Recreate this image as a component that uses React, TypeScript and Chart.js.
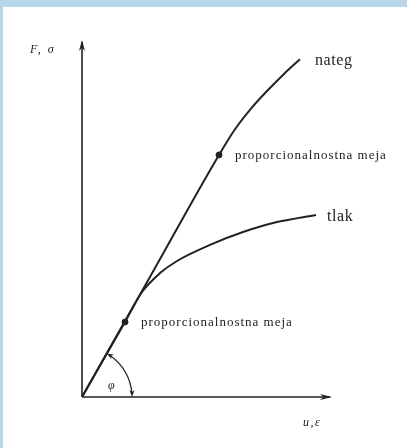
import React, { useEffect, useRef } from "react";
import { Chart, registerables } from "chart.js";

Chart.register(...registerables);

// Curves (u, F) in arbitrary units
const natX = [0, 2.74, 5.48, 6.12, 6.76, 7.4, 8.08, 8.72];
const natY = [0, 3.39, 6.78, 7.5, 8.08, 8.57, 9.05, 9.46];
const tlakX = [0, 1.72, 2.4, 3.12, 3.8, 5.12, 6.44, 7.8, 9.36];
const tlakY = [0, 2.1, 2.94, 3.47, 3.81, 4.26, 4.62, 4.9, 5.1];
const limitX = [5.48, 1.72];
const limitY = [6.78, 2.1];
const curveLabels = ["nateg", "tlak"];
const limitLabel = "proporcionalnostna meja";
const axisLabels = ["F, σ", "u,ε"];
const angleLabel = "φ";

const INK = "#222";

function arrowHead(ctx: CanvasRenderingContext2D, x: number, y: number, ang: number, len: number, half: number) {
  ctx.save();
  ctx.translate(x, y);
  ctx.rotate(ang);
  ctx.beginPath();
  ctx.moveTo(0, 0);
  ctx.lineTo(-len, -half);
  ctx.lineTo(-len * 0.7, 0);
  ctx.lineTo(-len, half);
  ctx.closePath();
  ctx.fill();
  ctx.restore();
}

const decorPlugin = {
  id: "decor",
  afterDatasetsDraw(chart: any) {
    const ctx: CanvasRenderingContext2D = chart.ctx;
    const xs = chart.scales.x;
    const ys = chart.scales.y;
    const ca = chart.chartArea;
    const ox = xs.getPixelForValue(0);
    const oy = ys.getPixelForValue(0);
    ctx.save();
    ctx.strokeStyle = INK;
    ctx.fillStyle = INK;
    ctx.lineWidth = 1.6;
    // axes
    ctx.beginPath();
    ctx.moveTo(ox, oy);
    ctx.lineTo(ox, ca.top + 2);
    ctx.moveTo(ox, oy);
    ctx.lineTo(ca.right - 2, oy);
    ctx.stroke();
    arrowHead(ctx, ox, ca.top, -Math.PI / 2, 11, 3);
    arrowHead(ctx, ca.right, oy, 0, 12, 3);

    // angle arc
    const px = xs.getPixelForValue(limitX[0]);
    const py = ys.getPixelForValue(limitY[0]);
    const ang = Math.atan2(py - oy, px - ox);
    const r = 50;
    ctx.lineWidth = 1.3;
    ctx.beginPath();
    ctx.arc(ox, oy, r, ang + 0.06, -0.04);
    ctx.stroke();
    arrowHead(ctx, ox + r, oy, Math.PI / 2, 7, 2.5);
    const ex = ox + r * Math.cos(ang);
    const ey = oy + r * Math.sin(ang);
    arrowHead(ctx, ex, ey, ang - Math.PI / 2, 7, 2.5);

    // texts
    ctx.textBaseline = "middle";
    ctx.textAlign = "left";
    ctx.font = "italic 12px 'Liberation Serif', serif";
    ctx.fillText(angleLabel, ox + 26, oy - 11);
    ctx.font = "italic 12px 'Liberation Serif', serif";
    (ctx as any).letterSpacing = "2px";
    ctx.fillText(axisLabels[0], ox - 52, ca.top + 10);
    (ctx as any).letterSpacing = "1.5px";
    ctx.fillText(axisLabels[1], ca.right - 29, oy + 26);

    ctx.font = "16px 'Liberation Serif', serif";
    (ctx as any).letterSpacing = "0.6px";
    const nEnd = natX.length - 1;
    ctx.fillText(curveLabels[0], xs.getPixelForValue(natX[nEnd]) + 15, ys.getPixelForValue(natY[nEnd]) + 2);
    const tEnd = tlakX.length - 1;
    ctx.fillText(curveLabels[1], xs.getPixelForValue(tlakX[tEnd]) + 11, ys.getPixelForValue(tlakY[tEnd]) + 2);

    ctx.font = "13px 'Liberation Serif', serif";
    (ctx as any).letterSpacing = "1px";
    for (let i = 0; i < limitX.length; i++) {
      ctx.fillText(limitLabel, xs.getPixelForValue(limitX[i]) + 16, ys.getPixelForValue(limitY[i]) + 1);
    }
    ctx.restore();
  },
};

export default function App() {
  const ref = useRef<HTMLCanvasElement | null>(null);
  useEffect(() => {
    if (!ref.current) return;
    const chart = new Chart(ref.current, {
      type: "line",
      data: {
        datasets: [
          {
            label: curveLabels[0],
            data: natX.map((x, i) => ({ x, y: natY[i] })),
            borderColor: INK,
            borderWidth: 2,
            pointRadius: 0,
            cubicInterpolationMode: "monotone",
            fill: false,
          },
          {
            label: curveLabels[1],
            data: tlakX.map((x, i) => ({ x, y: tlakY[i] })),
            borderColor: INK,
            borderWidth: 2,
            pointRadius: 0,
            cubicInterpolationMode: "monotone",
            fill: false,
          },
          {
            label: limitLabel,
            data: limitX.map((x, i) => ({ x, y: limitY[i] })),
            showLine: false,
            pointRadius: 3,
            pointBackgroundColor: INK,
            pointBorderColor: INK,
          },
        ],
      },
      options: {
        animation: false,
        responsive: false,
        layout: { padding: { left: 82, right: 75, top: 40, bottom: 51 } },
        scales: {
          x: { type: "linear", min: 0, max: 10, display: false },
          y: { type: "linear", min: 0, max: 10, display: false },
        },
        plugins: { legend: { display: false }, tooltip: { enabled: false } },
      } as any,
      plugins: [decorPlugin],
    });
    return () => chart.destroy();
  }, []);

  return (
    <div style={{ position: "absolute", left: 0, top: 0, width: 407, height: 448, background: "#b8d8ea" }}>
      <div style={{ position: "absolute", left: 3, top: 7, right: 0, bottom: 0, background: "#fff" }} />
      <canvas ref={ref} width={407} height={448} style={{ position: "absolute", left: 0, top: 0 }} />
    </div>
  );
}
